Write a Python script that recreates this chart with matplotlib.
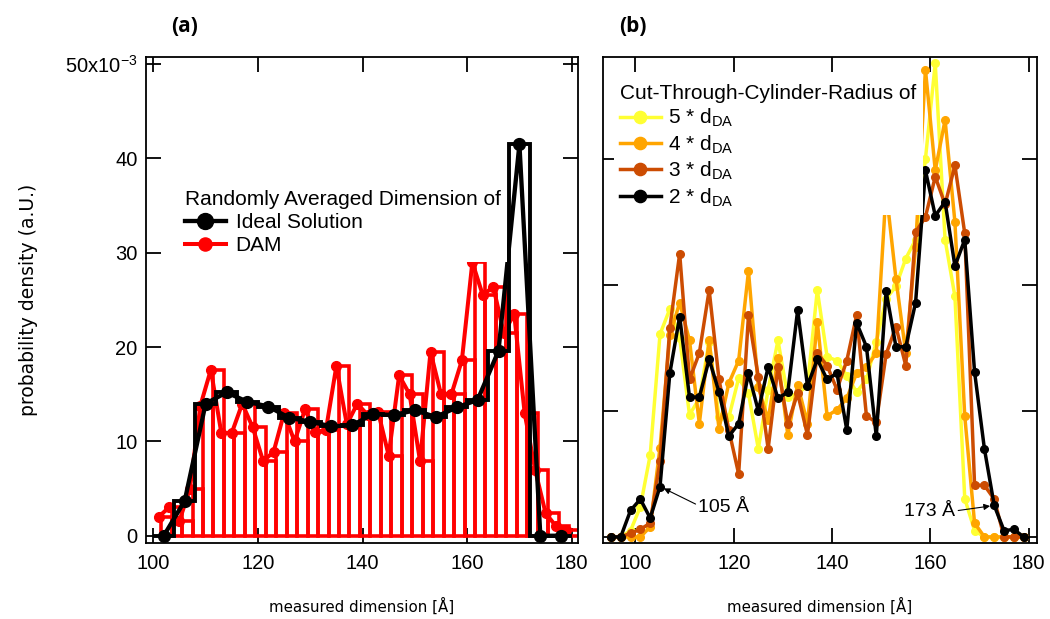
import numpy as np
import matplotlib
matplotlib.use('Agg')
import matplotlib.pyplot as plt

plt.rcParams['font.family'] = 'Liberation Sans'
plt.rcParams['mathtext.fontset'] = 'custom'
plt.rcParams['mathtext.rm'] = 'Liberation Sans'
plt.rcParams['mathtext.it'] = 'Liberation Sans:italic'

# (a) randomly averaged dimension, values in 1e-3
ideal_x = [102, 106, 110, 114, 118, 122, 126, 130, 134, 138,
           142, 146, 150, 154, 158, 162, 166, 170, 174, 178]
ideal_y = [0.0, 3.7, 14.0, 15.2, 14.2, 13.7, 12.5, 12.1, 11.6, 11.7,
           12.9, 12.8, 13.3, 12.6, 13.6, 14.4, 19.6, 41.5, 0.0, 0.0]
ideal_edges = [100, 104, 108, 112, 116, 120, 124, 128, 132, 136, 140,
               144, 148, 152, 156, 160, 164, 168, 172, 176, 180]

dam_x = [101, 103, 105, 107, 109, 111, 113, 115, 117, 119,
         121, 123, 125, 127, 129, 131, 133, 135, 137, 139,
         141, 143, 145, 147, 149, 151, 153, 155, 157, 159,
         161, 163, 165, 167, 169, 171, 173, 175, 177, 179]
dam_y = [2.0, 3.0, 1.6, 5.0, 13.8, 17.6, 10.9, 10.9, 14.0, 11.5,
         7.9, 8.9, 13.0, 10.0, 13.4, 11.0, 11.2, 18.0, 11.8, 14.0,
         12.8, 13.1, 8.5, 17.0, 15.0, 7.9, 19.5, 15.0, 15.0, 18.6,
         29.0, 25.5, 26.4, 21.5, 23.5, 13.0, 7.0, 2.4, 1.0, 0.6]

# (b) cut-through-cylinder radius
cyl_x = [95, 97, 99, 101, 103, 105, 107, 109, 111, 113, 115,
         117, 119, 121, 123, 125, 127, 129, 131, 133, 135, 137,
         139, 141, 143, 145, 147, 149, 151, 153, 155, 157, 159,
         161, 163, 165, 167, 169, 171, 173, 175, 177, 179]
r5 = [0.0, 0.0, 0.5, 2.4, 6.5, 16.1, 18.1, 15.8, 9.7, 11.0, 15.5,
      9.5, 9.5, 12.6, 11.4, 7.0, 11.7, 15.6, 11.1, 11.4, 12.0, 19.6,
      14.3, 14.0, 12.8, 11.5, 12.5, 15.5, 18.9, 19.9, 22.1, 23.6, 30.0,
      37.6, 23.6, 19.1, 3.05, 0.5, 0.0, 0.0, 0.0, 0.0, 0.0]
r4 = [0.0, 0.0, 0.0, 0.0, 0.8, 7.1, 16.0, 18.6, 15.6, 9.0, 15.6,
      8.6, 12.2, 14.0, 21.1, 11.9, 9.3, 14.2, 8.1, 12.1, 9.0, 17.1,
      9.6, 10.1, 11.0, 13.0, 13.5, 14.6, 27.5, 20.5, 14.6, 23.0, 37.1,
      29.1, 33.1, 25.0, 9.6, 1.1, 0.0, 0.0, 0.0, 0.0, 0.0]
r3 = [0.0, 0.0, 0.3, 0.6, 1.1, 6.0, 16.6, 22.5, 12.5, 14.6, 19.6,
      12.5, 8.5, 5.0, 17.6, 12.7, 7.0, 13.5, 9.0, 11.4, 8.1, 14.6,
      13.6, 11.7, 14.0, 17.6, 9.6, 9.1, 14.5, 16.7, 13.6, 24.2, 25.4,
      28.6, 26.4, 29.5, 24.1, 4.1, 4.1, 3.0, 0.0, 0.0, 0.0]
r2 = [0.0, 0.0, 2.1, 3.0, 1.5, 4.0, 13.0, 17.5, 11.1, 11.1, 14.1,
      11.5, 8.0, 9.0, 13.0, 10.0, 13.5, 11.0, 11.5, 18.0, 12.0, 14.1,
      12.5, 13.0, 8.5, 17.0, 15.1, 8.0, 19.5, 15.1, 15.1, 18.6, 29.1,
      25.5, 26.6, 21.5, 23.6, 13.1, 7.0, 2.5, 0.5, 0.6, 0.0]

cyl_series = [(r5, '#ffff33', '5 * d$_{\\mathrm{DA}}$'),
              (r4, '#ffa500', '4 * d$_{\\mathrm{DA}}$'),
              (r3, '#cc4c02', '3 * d$_{\\mathrm{DA}}$'),
              (r2, 'black', '2 * d$_{\\mathrm{DA}}$')]

fig = plt.figure(figsize=(10.5, 6.19), dpi=100)
ax_a = fig.add_axes([146 / 1050, 76 / 619, 432 / 1050, 486 / 619])
ax_b = fig.add_axes([603 / 1050, 76 / 619, 434 / 1050, 486 / 619])

# histogram bars + averaged curves
ax_a.bar(np.array(dam_x) + 1.5, dam_y, width=2, fill=False,
         edgecolor='red', linewidth=2.6, zorder=2)
dam_line, = ax_a.plot(dam_x, dam_y, '-o', color='red', lw=2.9, ms=7,
                      zorder=3, label='DAM')
ax_a.stairs(ideal_y, ideal_edges, color='black', lw=2.8, baseline=0,
            zorder=4)
ideal_line, = ax_a.plot(ideal_x, ideal_y, '-o', color='black', lw=3.1,
                        ms=8.5, zorder=5, label='Ideal Solution')

ax_a.set_xlim(98.6, 181.2)
ax_a.set_ylim(-0.77, 50.76)
ax_a.set_xticks([100, 120, 140, 160, 180])
ax_a.set_yticks([0, 10, 20, 30, 40, 50])
ax_a.set_yticklabels(['0', '10', '20', '30', '40', '50x10$^{-3}$'])

leg_opts = dict(loc='upper left', borderaxespad=0, alignment='left',
                fontsize=15, title_fontsize=15, handlelength=1.95,
                labelspacing=0.2, borderpad=0.3, frameon=True,
                fancybox=False, framealpha=1, edgecolor='none',
                facecolor='white')

ax_a.legend(handles=[ideal_line, dam_line], bbox_to_anchor=(0.076, 0.739),
            title='Randomly Averaged Dimension of', handletextpad=0.48,
            markerscale=1.35, **leg_opts)

for series, color, label in cyl_series:
    ax_b.plot(cyl_x, series, '-o', color=color, lw=2.5, ms=5.5, label=label)

ax_b.set_xlim(93.4, 181.7)
ax_b.set_ylim(-0.48, 38.1)
ax_b.set_xticks([100, 120, 140, 160, 180])
ax_b.set_yticks([0, 10, 20, 30])
ax_b.tick_params(labelleft=False)

ax_b.legend(bbox_to_anchor=(0.025, 0.958),
            title='Cut-Through-Cylinder-Radius of', handletextpad=0.34,
            markerscale=1.6, **leg_opts)

arrow = dict(arrowstyle='-|>', color='black', lw=0.8, mutation_scale=9,
             shrinkA=0, shrinkB=3)
ax_b.annotate('105 Å', xy=(105, 4.0), xytext=(112.8, 2.3), ha='left',
              va='center', fontsize=14,
              arrowprops=dict(arrow, relpos=(0, 0.65)))
ax_b.annotate('173 Å', xy=(173, 2.5), xytext=(165.1, 2.0), ha='right',
              va='center', fontsize=14,
              arrowprops=dict(arrow, relpos=(1, 0.55)))

for ax in (ax_a, ax_b):
    ax.tick_params(direction='in', length=11, width=1.3, top=True,
                   right=True, labelsize=14.5)
    ax.tick_params(axis='x', pad=8)
    ax.tick_params(axis='y', pad=6)
    for spine in ax.spines.values():
        spine.set_linewidth(1.3)

fig.text(185 / 1050, 1 - 27 / 619, '(a)', fontsize=15, fontweight='bold',
         family='Open Sans', ha='center', va='center')
fig.text(633 / 1050, 1 - 27 / 619, '(b)', fontsize=15, fontweight='bold',
         family='Open Sans', ha='center', va='center')

fig.text(28 / 1050, 1 - 300 / 619, 'probability density (a.U.)',
         rotation=90, family='DejaVu Sans', fontsize=13.5, ha='center',
         va='center')
for xc in (362, 820):
    fig.text(xc / 1050, 1 - 606 / 619, 'measured dimension [Å]',
             family='DejaVu Sans', fontsize=10.8, ha='center', va='center')

fig.savefig('out.png', dpi=100)
